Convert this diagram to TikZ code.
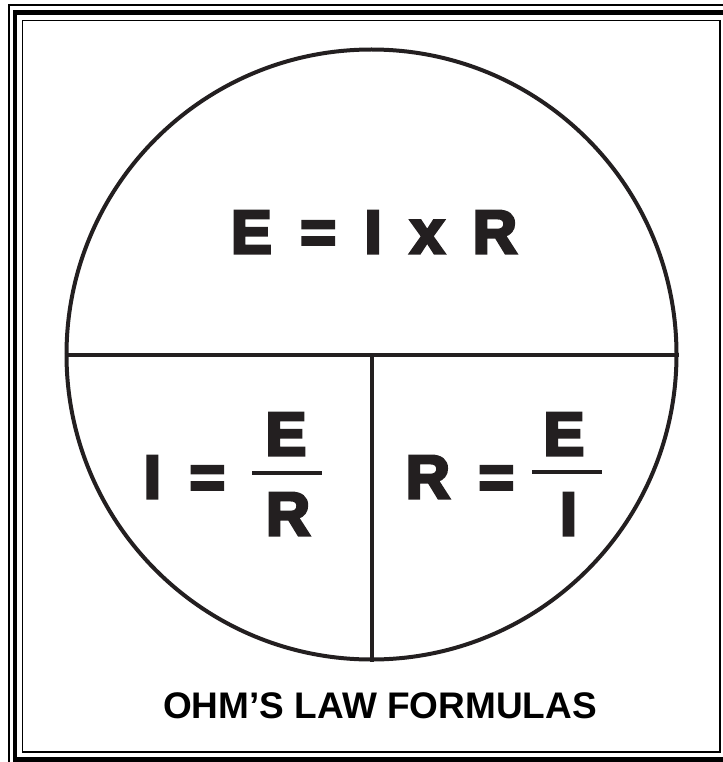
\documentclass[tikz,border=0pt]{standalone}
\usepackage{fontspec}
\setmainfont{Liberation Sans}
\newfontfamily\heavyfont[FakeBold=5]{Liberation Sans}
\usetikzlibrary{positioning}
\definecolor{oink}{HTML}{231F20}
\tikzset{
  framethin/.style={draw=black, line width=1.6pt},
  framethick/.style={draw=black, line width=4.5pt},
  rule/.style={draw=oink, line width=4pt},
  bigtext/.style={font=\heavyfont\bfseries\fontsize{61}{61}\selectfont,
                  execute at begin node={\spaceskip=0.47em\relax},
                  text=oink, inner sep=0pt, anchor=base},
  fracbar/.style={fill=oink, minimum width=70pt, minimum height=4pt, inner sep=0pt},
  titletext/.style={font=\bfseries\fontsize{37}{37}\selectfont, inner sep=0pt, anchor=base},
}

\begin{document}
\begin{tikzpicture}[x=1pt, y=-1pt]
  \useasboundingbox (0,0) rectangle (722,762);
  % frame
  \draw[framethin] (9,5) rectangle (733,765);
  \draw[framethick] (15,12.5) rectangle (727,759.5);
  \draw[framethin] (22.5,20.5) rectangle (720,752);

  % circle and dividers
  \node[circle, draw=oink, line width=4pt, minimum size=610pt] (ohm) at (371.5,354.5) {};
  \draw[rule] (ohm.west) -- (ohm.east);
  \draw[rule] (ohm.center) -- (ohm.south);

  % top
  \node[bigtext] (eir) at (374,253) {E = I x R};

  % left
  \node[bigtext] (ieq) at (184.5,498) {I =};
  \node[fracbar] (ibar) at (287,473) {};
  \node[bigtext] (inum) at (286,455) {E};
  \node[bigtext] (iden) at (288,535) {R};

  % right
  \node[bigtext] (req) at (460,498) {R =};
  \node[fracbar] (rbar) at (566.5,472) {};
  \node[bigtext] (rnum) at (564,455) {E};
  \node[bigtext] (rden) at (568.5,535) {I};

  \node[titletext] (title) at (380,718) {OHM’S LAW FORMULAS};
\end{tikzpicture}
\end{document}
